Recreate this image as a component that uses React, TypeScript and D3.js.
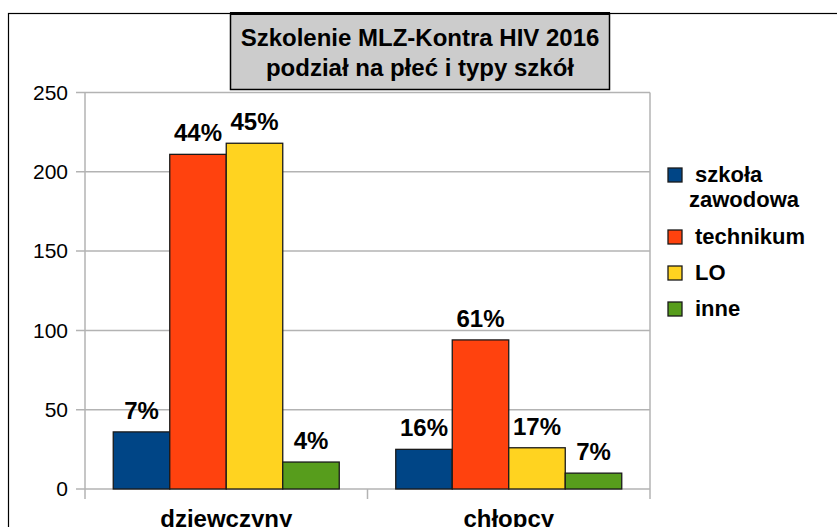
import React from "react";
import * as d3 from "d3";

const categories = ["dziewczyny", "chłopcy"];
const seriesNames = ["szkoła zawodowa", "technikum", "LO", "inne"];
const legendLines = [["szkoła", "zawodowa"], ["technikum"], ["LO"], ["inne"]];
const seriesColors = ["#004586", "#ff420e", "#ffd320", "#579d1c"];
const szkolaZawodowa = [36, 25];
const technikum = [211, 94];
const lo = [218, 26];
const inne = [17, 10];
const szkolaZawodowaPct = ["7%", "16%"];
const technikumPct = ["44%", "61%"];
const loPct = ["45%", "17%"];
const innePct = ["4%", "7%"];
const yTicks = [0, 50, 100, 150, 200, 250];
const titleLines = ["Szkolenie MLZ-Kontra HIV 2016", "podział na płeć i typy szkół"];

const seriesValues = [szkolaZawodowa, technikum, lo, inne];
const seriesPct = [szkolaZawodowaPct, technikumPct, loPct, innePct];

const W = 837;
const H = 527;
const FONT = "'Liberation Sans', Arial, sans-serif";

export default function App() {
  const left = 85;
  const right = 650;
  const top = 92.5;
  const bottom = 489;
  const y = d3.scaleLinear().domain([0, 250]).range([bottom, top]);
  const x0 = d3.scaleBand<string>().domain(categories).range([left, right]);
  const bw = x0.bandwidth();
  const x1 = d3
    .scaleBand<string>()
    .domain(seriesNames)
    .range([bw * 0.1, bw * 0.9]);

  const legendY = [175, 237, 273, 309];

  return (
    <svg
      width={W}
      height={H}
      style={{ position: "absolute", left: 0, top: 0, background: "#fff" }}
      fontFamily={FONT}
    >
      <rect x={0} y={0} width={W} height={H} fill="#fff" />
      {/* outer border */}
      <rect x={8.5} y={13.5} width={W + 10} height={H + 10} fill="none" stroke="#000" strokeWidth={1.2} />

      {/* gridlines */}
      {yTicks.map((t) => (
        <g key={t}>
          <line x1={76} x2={right} y1={y(t)} y2={y(t)} stroke="#b3b3b3" strokeWidth={1.5} />
          <text
            x={68}
            y={y(t)}
            dy="0.35em"
            textAnchor="end"
            fontSize={21}
            fill="#000"
          >
            {t}
          </text>
        </g>
      ))}
      {/* axis and walls */}
      <line x1={left} x2={left} y1={top} y2={499} stroke="#b3b3b3" strokeWidth={1.5} />
      <line x1={right} x2={right} y1={top} y2={499} stroke="#b3b3b3" strokeWidth={1.5} />
      {categories.slice(1).map((c) => (
        <line
          key={c}
          x1={x0(c)}
          x2={x0(c)}
          y1={bottom}
          y2={499}
          stroke="#b3b3b3"
          strokeWidth={1.5}
        />
      ))}

      {/* bars */}
      {categories.map((c, ci) => (
        <g key={c} transform={`translate(${x0(c)},0)`}>
          {seriesNames.map((s, si) => {
            const v = seriesValues[si][ci];
            const bx = x1(s) as number;
            return (
              <g key={s}>
                <rect
                  x={bx}
                  y={y(v)}
                  width={x1.bandwidth()}
                  height={bottom - y(v)}
                  fill={seriesColors[si]}
                  stroke="#1a1a1a"
                  strokeWidth={1.3}
                />
                <text
                  x={bx + x1.bandwidth() / 2}
                  y={y(v) - 13}
                  textAnchor="middle"
                  fontSize={24}
                  fontWeight="bold"
                  fill="#000"
                >
                  {seriesPct[si][ci]}
                </text>
              </g>
            );
          })}
          <text
            x={bw / 2}
            y={527}
            textAnchor="middle"
            fontSize={24}
            fontWeight="bold"
            fill="#000"
          >
            {c}
          </text>
        </g>
      ))}

      {/* legend */}
      {seriesNames.map((s, i) => (
        <g key={s}>
          <rect
            x={668}
            y={legendY[i] - 7}
            width={14}
            height={14}
            fill={seriesColors[i]}
            stroke="#1a1a1a"
            strokeWidth={1.3}
          />
          {legendLines[i].map((ln, li) => (
            <text
              key={li}
              x={li === 0 ? 695 : 689}
              y={legendY[i] + 7 + li * 25}
              fontSize={22}
              fontWeight="bold"
              fill="#000"
            >
              {ln}
            </text>
          ))}
        </g>
      ))}

      {/* title */}
      <rect x={230.5} y={13.5} width={379} height={76} fill="#cccccc" stroke="#000" strokeWidth={1.5} />
      <line x1={230} x2={610} y1={13.5} y2={13.5} stroke="#000" strokeWidth={3} />
      {titleLines.map((t, i) => (
        <text
          key={i}
          x={420}
          y={46 + i * 30}
          textAnchor="middle"
          fontSize={24}
          fontWeight="bold"
          fill="#000"
        >
          {t}
        </text>
      ))}
    </svg>
  );
}
